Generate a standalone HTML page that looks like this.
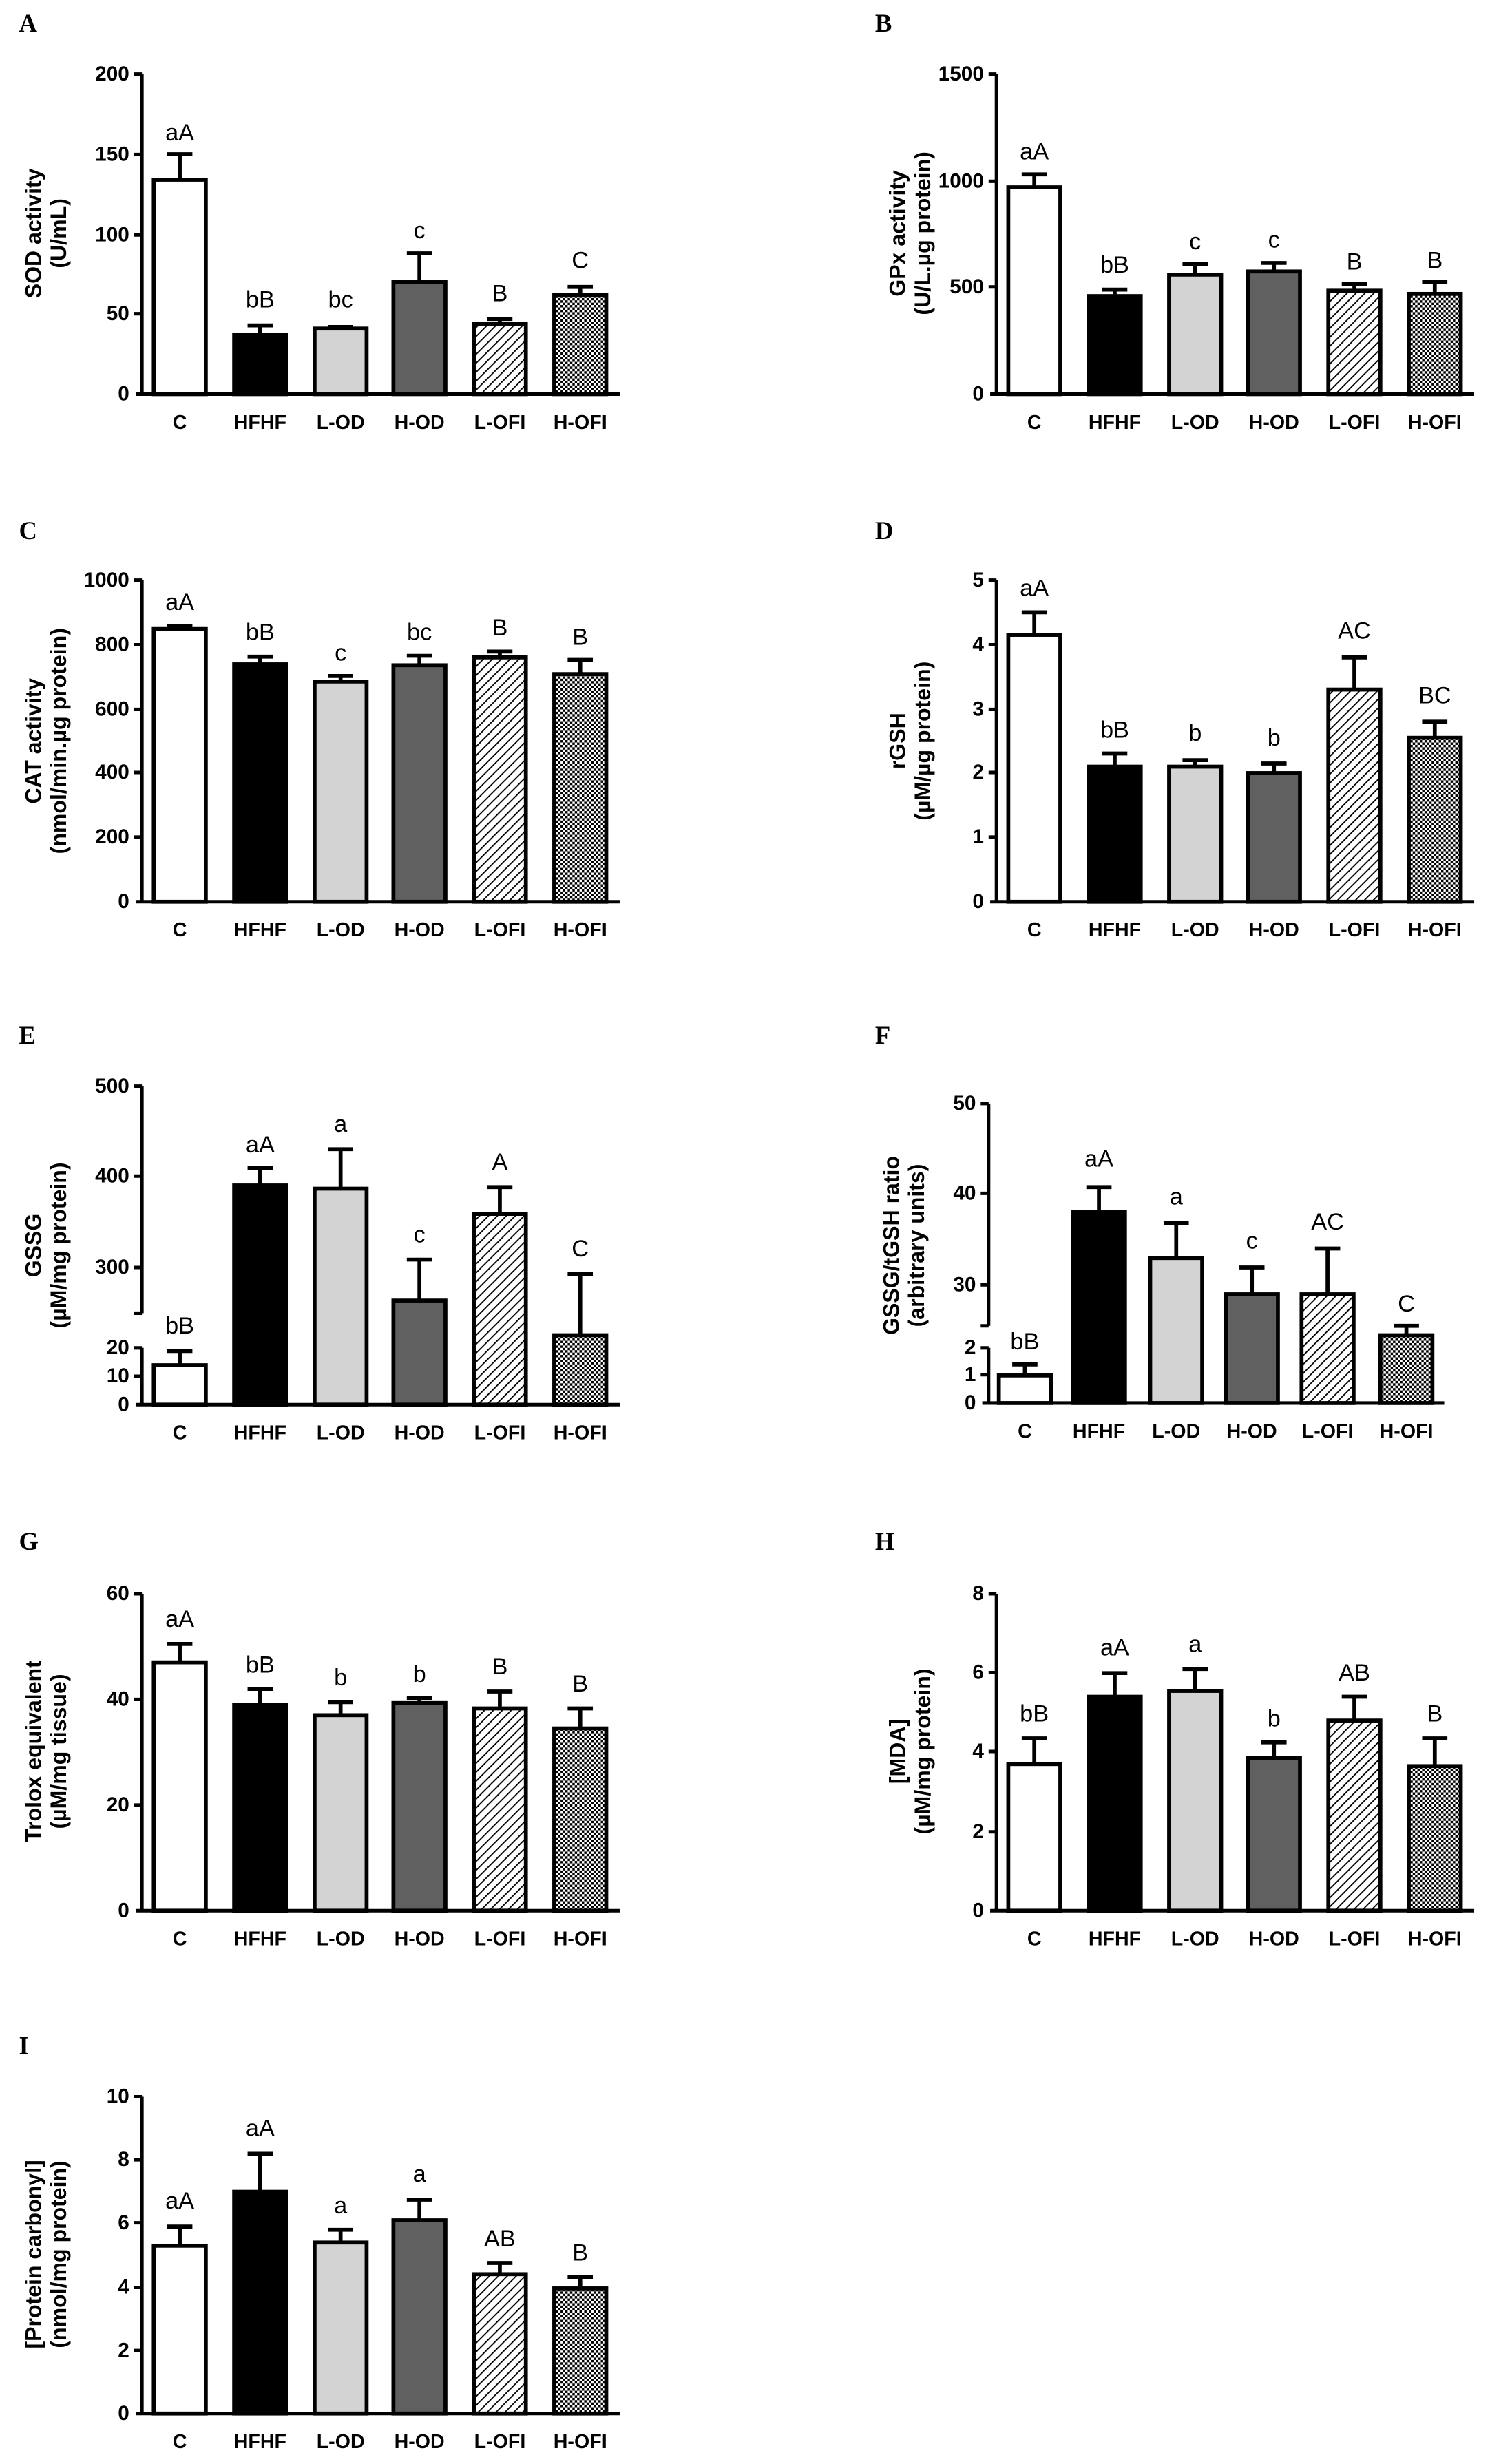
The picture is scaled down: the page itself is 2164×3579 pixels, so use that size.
<!DOCTYPE html>
<html><head><meta charset="utf-8"><style>
html,body{margin:0;padding:0;background:#fff}
svg{display:block}
.t{font:bold 13px "Liberation Sans",sans-serif;text-anchor:end}
.c{font:bold 12.5px "Liberation Sans",sans-serif;text-anchor:middle}
.s{font:15px "Liberation Sans",sans-serif;text-anchor:middle}
.y{font:bold 14px "Liberation Sans",sans-serif;text-anchor:middle}
.p{font:bold 16px "Liberation Serif",serif}
.ax{stroke:#000;stroke-width:2.2;fill:none}
.b{stroke:#000;stroke-width:2.5}
.e{stroke:#000;stroke-width:2.5;fill:none}
</style></head><body>
<svg width="2164" height="3579" viewBox="0 0 945 1563" xmlns="http://www.w3.org/2000/svg">
<defs>
<pattern id="h" patternUnits="userSpaceOnUse" width="4" height="4" patternTransform="rotate(45)"><rect width="4" height="4" fill="#fff"/><line x1="0" y1="0" x2="0" y2="4" stroke="#000" stroke-width="1.6"/></pattern>
<pattern id="k" patternUnits="userSpaceOnUse" width="3" height="3"><rect width="3" height="3" fill="#fff"/><rect width="1.5" height="1.5" fill="#000"/><rect x="1.5" y="1.5" width="1.5" height="1.5" fill="#000"/></pattern>
</defs>

<!-- ===== A ===== -->
<text class="p" x="12" y="20">A</text>
<text class="y" transform="translate(26,148) rotate(-90)">SOD activity</text>
<text class="y" transform="translate(42,148) rotate(-90)">(U/mL)</text>
<path class="ax" d="M90,47V250M86,250H393M85,47H90M85,98H90M85,149H90M85,199H90"/>
<text class="t" x="82" y="51">200</text><text class="t" x="82" y="102">150</text><text class="t" x="82" y="153">100</text><text class="t" x="82" y="203">50</text><text class="t" x="82" y="254">0</text>
<path class="e" d="M114,114V97.8M106,97.8H122M165,212.4V206.4M157,206.4H173M216,208.4V207.4M208,207.4H224M266,179V160.7M258,160.7H274M317,205.3V202.3M309,202.3H325M368,187V182M360,182H376"/>
<rect class="b" x="97.5" y="114" width="33" height="136" fill="#fff"/>
<rect class="b" x="148.5" y="212.4" width="33" height="37.6" fill="#000"/>
<rect class="b" x="199.5" y="208.4" width="33" height="41.6" fill="#d3d3d3"/>
<rect class="b" x="249.5" y="179" width="33" height="71" fill="#606060"/>
<rect class="b" x="300.5" y="205.3" width="33" height="44.7" fill="url(#h)"/>
<rect class="b" x="351.5" y="187" width="33" height="63" fill="url(#k)"/>
<text class="s" x="114" y="89">aA</text><text class="s" x="165" y="195">bB</text><text class="s" x="216" y="195">bc</text><text class="s" x="266" y="151">c</text><text class="s" x="317" y="191">B</text><text class="s" x="368" y="170">C</text>
<text class="c" x="114" y="272">C</text><text class="c" x="165" y="272">HFHF</text><text class="c" x="216" y="272">L-OD</text><text class="c" x="266" y="272">H-OD</text><text class="c" x="317" y="272">L-OFI</text><text class="c" x="368" y="272">H-OFI</text>

<!-- ===== B ===== -->
<text class="p" x="555" y="20">B</text>
<g transform="translate(542,0)">
<text class="y" transform="translate(32,148) rotate(-90)">GPx activity</text>
<text class="y" transform="translate(48,148) rotate(-90)">(U/L.µg protein)</text>
<path class="ax" d="M90,47V250M86,250H393M85,47H90M85,115H90M85,182H90"/>
<text class="t" x="82" y="51">1500</text><text class="t" x="82" y="119">1000</text><text class="t" x="82" y="186">500</text><text class="t" x="82" y="254">0</text>
<path class="e" d="M114,118.8V110.6M106,110.6H122M165,187.8V183.7M157,183.7H173M216,174.2V167.5M208,167.5H224M266,172.2V166.8M258,166.8H274M317,184.4V180.3M309,180.3H325M368,186.4V179M360,179H376"/>
<rect class="b" x="97.5" y="118.8" width="33" height="131.2" fill="#fff"/>
<rect class="b" x="148.5" y="187.8" width="33" height="62.2" fill="#000"/>
<rect class="b" x="199.5" y="174.2" width="33" height="75.8" fill="#d3d3d3"/>
<rect class="b" x="249.5" y="172.2" width="33" height="77.8" fill="#606060"/>
<rect class="b" x="300.5" y="184.4" width="33" height="65.6" fill="url(#h)"/>
<rect class="b" x="351.5" y="186.4" width="33" height="63.6" fill="url(#k)"/>
<text class="s" x="114" y="101">aA</text><text class="s" x="165" y="173">bB</text><text class="s" x="216" y="158">c</text><text class="s" x="266" y="157">c</text><text class="s" x="317" y="171">B</text><text class="s" x="368" y="170">B</text>
<text class="c" x="114" y="272">C</text><text class="c" x="165" y="272">HFHF</text><text class="c" x="216" y="272">L-OD</text><text class="c" x="266" y="272">H-OD</text><text class="c" x="317" y="272">L-OFI</text><text class="c" x="368" y="272">H-OFI</text>
</g>

<!-- ===== C ===== -->
<text class="p" x="12" y="342">C</text>
<text class="y" transform="translate(26,470) rotate(-90)">CAT activity</text>
<text class="y" transform="translate(42,470) rotate(-90)">(nmol/min.µg protein)</text>
<path class="ax" d="M90,368V572M86,572H393M85,368H90M85,409H90M85,450H90M85,490H90M85,531H90"/>
<text class="t" x="82" y="372">1000</text><text class="t" x="82" y="413">800</text><text class="t" x="82" y="454">600</text><text class="t" x="82" y="494">400</text><text class="t" x="82" y="535">200</text><text class="t" x="82" y="576">0</text>
<path class="e" d="M114,399V397M106,397H122M165,421.4V416.5M157,416.5H173M216,432.3V428.8M208,428.8H224M266,422V416M258,416H274M317,417V413.3M309,413.3H325M368,427.6V418.6M360,418.6H376"/>
<rect class="b" x="97.5" y="399" width="33" height="173" fill="#fff"/>
<rect class="b" x="148.5" y="421.4" width="33" height="150.6" fill="#000"/>
<rect class="b" x="199.5" y="432.3" width="33" height="139.7" fill="#d3d3d3"/>
<rect class="b" x="249.5" y="422" width="33" height="150" fill="#606060"/>
<rect class="b" x="300.5" y="417" width="33" height="155" fill="url(#h)"/>
<rect class="b" x="351.5" y="427.6" width="33" height="144.4" fill="url(#k)"/>
<text class="s" x="114" y="387">aA</text><text class="s" x="165" y="406">bB</text><text class="s" x="216" y="419">c</text><text class="s" x="266" y="406">bc</text><text class="s" x="317" y="403">B</text><text class="s" x="368" y="409">B</text>
<text class="c" x="114" y="594">C</text><text class="c" x="165" y="594">HFHF</text><text class="c" x="216" y="594">L-OD</text><text class="c" x="266" y="594">H-OD</text><text class="c" x="317" y="594">L-OFI</text><text class="c" x="368" y="594">H-OFI</text>

<!-- ===== D ===== -->
<text class="p" x="555" y="342">D</text>
<g transform="translate(542,0)">
<text class="y" transform="translate(32,470) rotate(-90)">rGSH</text>
<text class="y" transform="translate(48,470) rotate(-90)">(µM/µg protein)</text>
<path class="ax" d="M90,368V572M86,572H393M85,368H90M85,409H90M85,450H90M85,490H90M85,531H90"/>
<text class="t" x="82" y="372">5</text><text class="t" x="82" y="413">4</text><text class="t" x="82" y="454">3</text><text class="t" x="82" y="494">2</text><text class="t" x="82" y="535">1</text><text class="t" x="82" y="576">0</text>
<path class="e" d="M114,402.7V388.4M106,388.4H122M165,486.3V478M157,478H173M216,486.3V482.2M208,482.2H224M266,490.4V484.3M258,484.3H274M317,437.4V417M309,417H325M368,468V457.8M360,457.8H376"/>
<rect class="b" x="97.5" y="402.7" width="33" height="169.3" fill="#fff"/>
<rect class="b" x="148.5" y="486.3" width="33" height="85.7" fill="#000"/>
<rect class="b" x="199.5" y="486.3" width="33" height="85.7" fill="#d3d3d3"/>
<rect class="b" x="249.5" y="490.4" width="33" height="81.6" fill="#606060"/>
<rect class="b" x="300.5" y="437.4" width="33" height="134.6" fill="url(#h)"/>
<rect class="b" x="351.5" y="468" width="33" height="104" fill="url(#k)"/>
<text class="s" x="114" y="378">aA</text><text class="s" x="165" y="468">bB</text><text class="s" x="216" y="470">b</text><text class="s" x="266" y="473">b</text><text class="s" x="317" y="405">AC</text><text class="s" x="368" y="446">BC</text>
<text class="c" x="114" y="594">C</text><text class="c" x="165" y="594">HFHF</text><text class="c" x="216" y="594">L-OD</text><text class="c" x="266" y="594">H-OD</text><text class="c" x="317" y="594">L-OFI</text><text class="c" x="368" y="594">H-OFI</text>
</g>

<!-- ===== E ===== -->
<text class="p" x="12" y="662">E</text>
<text class="y" transform="translate(26,790) rotate(-90)">GSSG</text>
<text class="y" transform="translate(42,790) rotate(-90)">(µM/mg protein)</text>
<path class="ax" d="M90,689V833M90,855V891M86,891H393M85,689H90M85,746H90M85,804H90M85,833H90M85,855H90M85,873H90"/>
<text class="t" x="82" y="693">500</text><text class="t" x="82" y="750">400</text><text class="t" x="82" y="808">300</text><text class="t" x="82" y="859">20</text><text class="t" x="82" y="877">10</text><text class="t" x="82" y="895">0</text>
<path class="e" d="M114,866V857M106,857H122M165,752V741M157,741H173M216,754V729M208,729H224M266,825V799M258,799H274M317,770V753M309,753H325M368,847V808M360,808H376"/>
<rect class="b" x="97.5" y="866" width="33" height="25" fill="#fff"/>
<rect class="b" x="148.5" y="752" width="33" height="139" fill="#000"/>
<rect class="b" x="199.5" y="754" width="33" height="137" fill="#d3d3d3"/>
<rect class="b" x="249.5" y="825" width="33" height="66" fill="#606060"/>
<rect class="b" x="300.5" y="770" width="33" height="121" fill="url(#h)"/>
<rect class="b" x="351.5" y="847" width="33" height="44" fill="url(#k)"/>
<text class="s" x="114" y="846">bB</text><text class="s" x="165" y="731">aA</text><text class="s" x="216" y="718">a</text><text class="s" x="266" y="788">c</text><text class="s" x="317" y="742">A</text><text class="s" x="368" y="797">C</text>
<text class="c" x="114" y="913">C</text><text class="c" x="165" y="913">HFHF</text><text class="c" x="216" y="913">L-OD</text><text class="c" x="266" y="913">H-OD</text><text class="c" x="317" y="913">L-OFI</text><text class="c" x="368" y="913">H-OFI</text>

<!-- ===== F ===== -->
<text class="p" x="555" y="662">F</text>
<text class="y" transform="translate(570,790) rotate(-90)">GSSG/tGSH ratio</text>
<text class="y" transform="translate(586,790) rotate(-90)">(arbitrary units)</text>
<path class="ax" d="M627,700V841M627,855V890M623,890H916M622,700H627M622,757H627M622,815H627M622,841H627M622,855H627M622,872H627"/>
<text class="t" x="619" y="704">50</text><text class="t" x="619" y="761">40</text><text class="t" x="619" y="819">30</text><text class="t" x="619" y="859">2</text><text class="t" x="619" y="876">1</text><text class="t" x="619" y="894">0</text>
<path class="e" d="M650,872.5V865.5M642,865.5H658M697,769V753M689,753H705M746,798V776M738,776H754M794,821V804M786,804H802M842,821V792M834,792H850M892,847V841M884,841H900"/>
<rect class="b" x="633.5" y="872.5" width="33" height="17.5" fill="#fff"/>
<rect class="b" x="680.5" y="769" width="33" height="121" fill="#000"/>
<rect class="b" x="729.5" y="798" width="33" height="92" fill="#d3d3d3"/>
<rect class="b" x="777.5" y="821" width="33" height="69" fill="#606060"/>
<rect class="b" x="825.5" y="821" width="33" height="69" fill="url(#h)"/>
<rect class="b" x="875.5" y="847" width="33" height="43" fill="url(#k)"/>
<text class="s" x="650" y="856">bB</text><text class="s" x="697" y="740">aA</text><text class="s" x="746" y="764">a</text><text class="s" x="794" y="792">c</text><text class="s" x="842" y="780">AC</text><text class="s" x="892" y="832">C</text>
<text class="c" x="650" y="912">C</text><text class="c" x="697" y="912">HFHF</text><text class="c" x="746" y="912">L-OD</text><text class="c" x="794" y="912">H-OD</text><text class="c" x="842" y="912">L-OFI</text><text class="c" x="892" y="912">H-OFI</text>

<!-- ===== G ===== -->
<text class="p" x="12" y="983">G</text>
<text class="y" transform="translate(26,1111) rotate(-90)">Trolox equivalent</text>
<text class="y" transform="translate(42,1111) rotate(-90)">(µM/mg tissue)</text>
<path class="ax" d="M90,1011V1212M86,1212H393M85,1011H90M85,1078H90M85,1145H90"/>
<text class="t" x="82" y="1015">60</text><text class="t" x="82" y="1082">40</text><text class="t" x="82" y="1149">20</text><text class="t" x="82" y="1216">0</text>
<path class="e" d="M114,1054.5V1042.8M106,1042.8H122M165,1081.4V1071.3M157,1071.3H173M216,1088V1079.7M208,1079.7H224M266,1080.3V1077M258,1077H274M317,1083.7V1073M309,1073H325M368,1096.4V1083.7M360,1083.7H376"/>
<rect class="b" x="97.5" y="1054.5" width="33" height="157.5" fill="#fff"/>
<rect class="b" x="148.5" y="1081.4" width="33" height="130.6" fill="#000"/>
<rect class="b" x="199.5" y="1088" width="33" height="124" fill="#d3d3d3"/>
<rect class="b" x="249.5" y="1080.3" width="33" height="131.7" fill="#606060"/>
<rect class="b" x="300.5" y="1083.7" width="33" height="128.3" fill="url(#h)"/>
<rect class="b" x="351.5" y="1096.4" width="33" height="115.6" fill="url(#k)"/>
<text class="s" x="114" y="1032">aA</text><text class="s" x="165" y="1061">bB</text><text class="s" x="216" y="1069">b</text><text class="s" x="266" y="1067">b</text><text class="s" x="317" y="1062">B</text><text class="s" x="368" y="1073">B</text>
<text class="c" x="114" y="1234">C</text><text class="c" x="165" y="1234">HFHF</text><text class="c" x="216" y="1234">L-OD</text><text class="c" x="266" y="1234">H-OD</text><text class="c" x="317" y="1234">L-OFI</text><text class="c" x="368" y="1234">H-OFI</text>

<!-- ===== H ===== -->
<text class="p" x="555" y="983">H</text>
<g transform="translate(542,0)">
<text class="y" transform="translate(32,1111) rotate(-90)">[MDA]</text>
<text class="y" transform="translate(48,1111) rotate(-90)">(µM/mg protein)</text>
<path class="ax" d="M90,1011V1212M86,1212H393M85,1011H90M85,1061H90M85,1111H90M85,1162H90"/>
<text class="t" x="82" y="1015">8</text><text class="t" x="82" y="1065">6</text><text class="t" x="82" y="1115">4</text><text class="t" x="82" y="1166">2</text><text class="t" x="82" y="1216">0</text>
<path class="e" d="M114,1119V1102.7M106,1102.7H122M165,1076.3V1061.3M157,1061.3H173M216,1072.6V1058.7M208,1058.7H224M266,1115.3V1105.2M258,1105.2H274M317,1091.4V1076.3M309,1076.3H325M368,1120.3V1102.7M360,1102.7H376"/>
<rect class="b" x="97.5" y="1119" width="33" height="93" fill="#fff"/>
<rect class="b" x="148.5" y="1076.3" width="33" height="135.7" fill="#000"/>
<rect class="b" x="199.5" y="1072.6" width="33" height="139.4" fill="#d3d3d3"/>
<rect class="b" x="249.5" y="1115.3" width="33" height="96.7" fill="#606060"/>
<rect class="b" x="300.5" y="1091.4" width="33" height="120.6" fill="url(#h)"/>
<rect class="b" x="351.5" y="1120.3" width="33" height="91.7" fill="url(#k)"/>
<text class="s" x="114" y="1092">bB</text><text class="s" x="165" y="1050">aA</text><text class="s" x="216" y="1048">a</text><text class="s" x="266" y="1095">b</text><text class="s" x="317" y="1066">AB</text><text class="s" x="368" y="1092">B</text>
<text class="c" x="114" y="1234">C</text><text class="c" x="165" y="1234">HFHF</text><text class="c" x="216" y="1234">L-OD</text><text class="c" x="266" y="1234">H-OD</text><text class="c" x="317" y="1234">L-OFI</text><text class="c" x="368" y="1234">H-OFI</text>
</g>

<!-- ===== I ===== -->
<text class="p" x="12" y="1303">I</text>
<text class="y" transform="translate(26,1430) rotate(-90)">[Protein carbonyl]</text>
<text class="y" transform="translate(42,1430) rotate(-90)">(nmol/mg protein)</text>
<path class="ax" d="M90,1330V1531M86,1531H393M85,1330H90M85,1370H90M85,1410H90M85,1451H90M85,1491H90"/>
<text class="t" x="82" y="1334">10</text><text class="t" x="82" y="1374">8</text><text class="t" x="82" y="1414">6</text><text class="t" x="82" y="1455">4</text><text class="t" x="82" y="1495">2</text><text class="t" x="82" y="1535">0</text>
<path class="e" d="M114,1424.5V1412.4M106,1412.4H122M165,1390.3V1366.2M157,1366.2H173M216,1422.5V1414.4M208,1414.4H224M266,1408.4V1395.3M258,1395.3H274M317,1442.6V1435.5M309,1435.5H325M368,1451.6V1444.6M360,1444.6H376"/>
<rect class="b" x="97.5" y="1424.5" width="33" height="106.5" fill="#fff"/>
<rect class="b" x="148.5" y="1390.3" width="33" height="140.7" fill="#000"/>
<rect class="b" x="199.5" y="1422.5" width="33" height="108.5" fill="#d3d3d3"/>
<rect class="b" x="249.5" y="1408.4" width="33" height="122.6" fill="#606060"/>
<rect class="b" x="300.5" y="1442.6" width="33" height="88.4" fill="url(#h)"/>
<rect class="b" x="351.5" y="1451.6" width="33" height="79.4" fill="url(#k)"/>
<text class="s" x="114" y="1401">aA</text><text class="s" x="165" y="1355">aA</text><text class="s" x="216" y="1404">a</text><text class="s" x="266" y="1384">a</text><text class="s" x="317" y="1425">AB</text><text class="s" x="368" y="1434">B</text>
<text class="c" x="114" y="1553">C</text><text class="c" x="165" y="1553">HFHF</text><text class="c" x="216" y="1553">L-OD</text><text class="c" x="266" y="1553">H-OD</text><text class="c" x="317" y="1553">L-OFI</text><text class="c" x="368" y="1553">H-OFI</text>
</svg>
</body></html>
